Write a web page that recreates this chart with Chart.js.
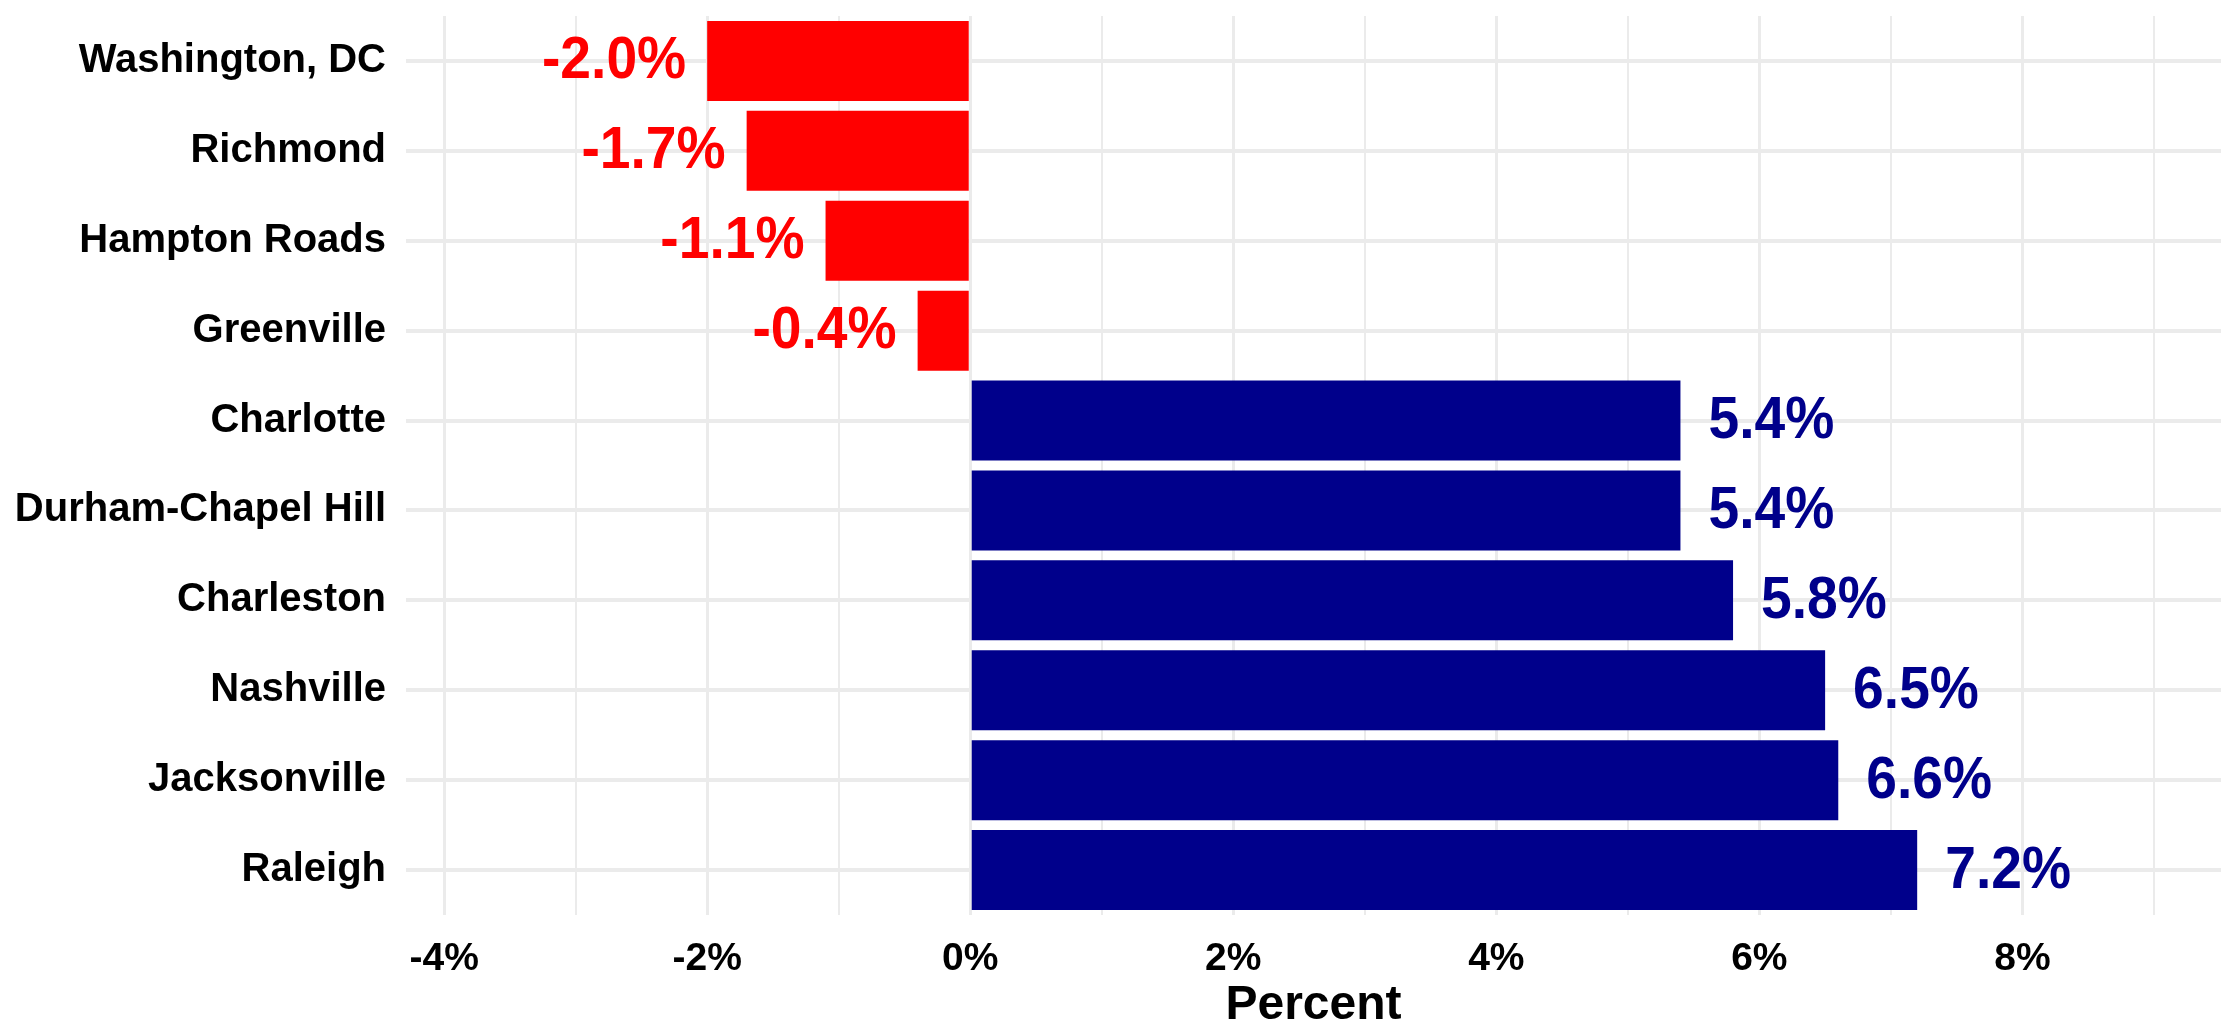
<!DOCTYPE html>
<html>
<head>
<meta charset="utf-8">
<title>Percent change by metro</title>
<script src="https://cdn.jsdelivr.net/npm/chart.js@4.4.1/dist/chart.umd.min.js"></script>
<style>
  html, body { margin: 0; padding: 0; background: #fff; }
  #wrap { width: 2221px; height: 1030px; }
</style>
</head>
<body>
<div id="wrap"><canvas id="chart" width="2221" height="1030"></canvas></div>
<script>
const metros = ['Washington, DC', 'Richmond', 'Hampton Roads', 'Greenville', 'Charlotte',
  'Durham-Chapel Hill', 'Charleston', 'Nashville', 'Jacksonville', 'Raleigh'];
const changes = [-2.0, -1.7, -1.1, -0.4, 5.4, 5.4, 5.8, 6.5, 6.6, 7.2];
const tickLabels = ['-4%', '-2%', '0%', '2%', '4%', '6%', '8%'];

const RED = '#ff0000';
const NAVY = '#00008b';
const FONT = '"Liberation Sans", Arial, sans-serif';

// value labels next to each bar, coloured like the bar (slightly condensed)
const barLabels = {
  id: 'barLabels',
  afterDatasetsDraw(chart) {
    const { ctx } = chart;
    const meta = chart.getDatasetMeta(0);
    meta.data.forEach((bar, i) => {
      const v = changes[i];
      const text = v.toFixed(1) + '%';
      const neg = v < 0;
      ctx.save();
      ctx.font = `bold 60px ${FONT}`;
      ctx.textBaseline = 'middle';
      ctx.fillStyle = neg ? RED : NAVY;
      ctx.textAlign = neg ? 'right' : 'left';
      ctx.translate(neg ? bar.x - 21 : bar.x + 28, bar.y + 1);
      ctx.scale(0.92, 1);
      ctx.fillText(text, 0, 0);
      ctx.restore();
    });
  }
};

new Chart(document.getElementById('chart'), {
  type: 'bar',
  data: {
    labels: metros,
    datasets: [{
      data: changes,
      backgroundColor: changes.map(v => v < 0 ? RED : NAVY),
      borderWidth: 0,
      categoryPercentage: 1,
      barPercentage: 0.89
    }]
  },
  options: {
    indexAxis: 'y',
    responsive: false,
    animation: false,
    layout: { padding: { top: 16, right: 0, bottom: 0, left: 0 } },
    plugins: {
      legend: { display: false },
      tooltip: { enabled: false }
    },
    scales: {
      x: {
        type: 'linear',
        min: -4.29,
        max: 9.51,
        border: { display: false },
        grid: {
          color: '#ebebeb',
          lineWidth: c => (c.tick && c.tick.value % 2 === 0) ? 3 : 2,
          drawTicks: false
        },
        ticks: {
          stepSize: 1,
          includeBounds: false,
          autoSkip: false,
          maxRotation: 0,
          padding: 21,
          color: '#000',
          font: { family: FONT, size: 39, weight: 'bold' },
          callback: v => {
            const i = tickLabels.indexOf(v + '%');
            return i >= 0 ? tickLabels[i] : '';
          }
        },
        title: {
          display: true,
          text: 'Percent',
          color: '#000',
          font: { family: FONT, size: 48, weight: 'bold', lineHeight: 1 },
          padding: { top: 0, bottom: 0 }
        },
        afterFit: s => { s.height = 115; }
      },
      y: {
        border: { display: false },
        grid: {
          color: '#ebebeb',
          lineWidth: 4,
          offset: false,
          drawTicks: false
        },
        ticks: {
          padding: 20,
          color: '#000',
          font: { family: FONT, size: 40, weight: 'bold' }
        },
        afterFit: s => {
          s.width = 406;
          s.paddingTop = 0;
          s.paddingBottom = 0;
        }
      }
    }
  },
  plugins: [barLabels]
});
</script>
</body>
</html>
